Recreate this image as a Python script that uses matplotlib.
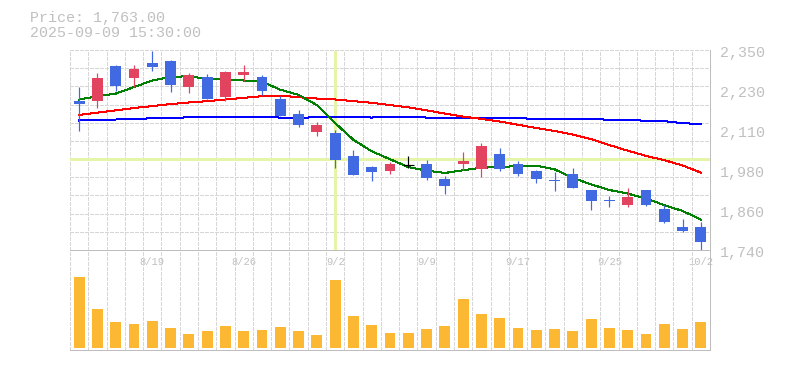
import matplotlib
matplotlib.use("Agg")
import matplotlib.pyplot as plt
from matplotlib.lines import Line2D
from matplotlib.transforms import offset_copy
import numpy as np

# ---------------- data ----------------
dates = ["8/13", "8/14", "8/15", "8/18", "8/19", "8/20", "8/21", "8/22",
         "8/25", "8/26", "8/27", "8/28", "8/29", "9/1", "9/2", "9/3",
         "9/4", "9/5", "9/8", "9/9", "9/10", "9/11", "9/12", "9/16",
         "9/17", "9/18", "9/19", "9/22", "9/24", "9/25", "9/26", "9/29",
         "9/30", "10/1", "10/2"]

opens = [2194, 2195, 2301, 2265, 2310, 2316, 2238, 2268, 2208, 2275,
         2268, 2201, 2155, 2101, 2097, 2027, 1993, 1982, 1999, 2002,
         1957, 2003, 1988, 2033, 2002, 1981, 1953, 1972, 1923, 1891,
         1878, 1923, 1865, 1809, 1810]
highs = [2238, 2281, 2304, 2304, 2347, 2320, 2280, 2277, 2286, 2304,
         2274, 2210, 2167, 2130, 2106, 2045, 1996, 2009, 2027, 2015,
         1966, 2040, 2066, 2051, 2011, 1984, 1977, 1990, 1923, 1906,
         1930, 1923, 1877, 1835, 1825]
lows = [2104, 2173, 2226, 2238, 2287, 2223, 2220, 2200, 2195, 2256,
        2213, 2149, 2116, 2089, 1991, 1969, 1949, 1973, 1991, 1952,
        1912, 1985, 1964, 1982, 1967, 1945, 1921, 1930, 1863, 1872,
        1872, 1875, 1823, 1795, 1741]
closes = [2186, 2265, 2241, 2292, 2299, 2244, 2274, 2201, 2283, 2283,
          2226, 2150, 2122, 2121, 2015, 1970, 1979, 2002, 1999, 1961,
          1936, 2012, 2057, 1988, 1973, 1958, 1951, 1930, 1888, 1889,
          1902, 1878, 1826, 1798, 1763]

ma_short = [2199, 2209, 2217, 2237, 2257, 2268, 2270, 2262, 2260, 2257,
            2253, 2229, 2213, 2182, 2127, 2076, 2041, 2017, 1993, 1982,
            1975, 1983, 1991, 1993, 1996, 1997, 1986, 1960, 1940, 1923,
            1912, 1897, 1877, 1859, 1833]
ma_mid = [2152, 2159, 2166, 2173, 2179, 2185, 2190, 2194, 2199, 2204,
          2209, 2211, 2206, 2202, 2199, 2194, 2189, 2182, 2175, 2166,
          2156, 2147, 2140, 2132, 2122, 2112, 2103, 2092, 2078, 2060,
          2043, 2027, 2014, 1998, 1976]
ma_long = [2135, 2138, 2138, 2139, 2142, 2142, 2145, 2145, 2145, 2145,
           2145, 2144, 2143, 2145, 2146, 2146, 2144, 2146, 2146, 2144,
           2144, 2144, 2144, 2142, 2142, 2140, 2140, 2140, 2140, 2137,
           2137, 2134, 2133, 2127, 2124]

volumes = [143, 79, 53, 49, 55, 41, 29, 35, 45, 35,
           37, 43, 35, 27, 137, 65, 47, 31, 31, 39,
           45, 99, 69, 61, 41, 37, 39, 35, 59, 41,
           37, 29, 49, 39, 53]

price_tick_values = [2350, 2228, 2106, 1984, 1862, 1740]
price_tick_labels = ["2,350", "2,230", "2,110", "1,980", "1,860", "1,740"]
date_tick_labels = ["8/19", "8/26", "9/2", "9/9", "9/17", "9/25", "10/2"]
info_lines = ["Price: 1,763.00", "2025-09-09 15:30:00"]
cross_date = "9/2"
cross_price = 2017.5

# ---------------- styling ----------------
W, H, DPI = 785, 370, 100
PT = 72.0 / DPI          # one pixel in points
UP = "#e2445f"
DOWN = "#4169e1"
FLAT = "#000000"
VOL = "#fdb833"
GRID = "#d6d6d6"
AXIS = "#bdbdbd"
TEXT = "#c0c0c0"
CROSS = "#e5f5a8"
FONT = "Liberation Mono"

L, R = 70, 710
P_TOP, P_BOT = 50, 250
V_TOP, V_BOT = 250, 350


def fx(px):
    return px / W


def fy(py):
    return 1 - py / H


fig = plt.figure(figsize=(W / DPI, H / DPI), dpi=DPI, facecolor="white")
ax = fig.add_axes([fx(L), fy(P_BOT), fx(R) - fx(L), fy(P_TOP) - fy(P_BOT)])
axv = fig.add_axes([fx(L), fy(V_BOT), fx(R) - fx(L), fy(V_TOP) - fy(V_BOT)])

n = len(dates)
x = np.arange(n)

for a in (ax, axv):
    a.patch.set_visible(False)
    a.set_xlim(-0.5, n - 0.5)
    a.set_xticks([])
    a.set_yticks([])
    for s in ("top", "left", "right"):
        a.spines[s].set_visible(False)
    a.spines["bottom"].set_color(AXIS)
    a.spines["bottom"].set_linewidth(1 * PT)
    a.spines["bottom"].set_zorder(6)
    # vertical dashed grid at candle boundaries
    for i in range(n):
        a.axvline(i - 0.5, color=GRID, lw=1 * PT, ls=(0, (3, 2)),
                  zorder=0.5, antialiased=False)

ax.set_ylim(min(price_tick_values), max(price_tick_values))
axv.set_ylim(-4, 196)

# horizontal dashed grid (square cells)
for k in range(1, 12):
    ax.plot([0, 1], [k / 11, k / 11], transform=ax.transAxes, color=GRID,
            lw=1 * PT, ls=(0, (3, 2)), zorder=0.5, antialiased=False)

# right border through both panels
fig.add_artist(Line2D([fx(R), fx(R)], [fy(V_BOT), fy(P_TOP)],
                      transform=fig.transFigure, color=AXIS, lw=1 * PT,
                      zorder=6))

# crosshair
ci = dates.index(cross_date)
ax.axhline(cross_price, color=CROSS, lw=3 * PT, zorder=1)
ax.axvline(ci, ymin=0.01, ymax=0.99, color=CROSS, lw=3 * PT, zorder=1)

# moving averages
ax.plot(x, ma_long, color="#0000ff", lw=1.0 * PT, zorder=2, antialiased=False)
ax.plot(x, ma_mid, color="#ff0000", lw=1.0 * PT, zorder=2, antialiased=False)
ax.plot(x, ma_short, color="#008000", lw=1.0 * PT, zorder=2, antialiased=False)

# candles
for i in range(n):
    o, h, l, c = opens[i], highs[i], lows[i], closes[i]
    col = UP if c > o else (DOWN if c < o else FLAT)
    ax.vlines(i, l, h, color=col, lw=1.2 * PT, zorder=3)
    if c != o:
        ax.bar(i, abs(c - o), bottom=min(o, c), width=0.6, color=col,
               lw=0, zorder=4)
    else:
        ax.hlines(o, i - 0.3, i + 0.3, color=col, lw=1.2 * PT, zorder=4)

# volume bars
axv.bar(x, volumes, width=0.6, color=VOL, lw=0, zorder=3)

# price labels on the right
tr = offset_copy(ax.get_yaxis_transform(), fig=fig, x=0, y=-7.5, units="dots")
for v, lab in zip(price_tick_values, price_tick_labels):
    ax.text(1 + 10 / (R - L), v, lab, transform=tr, ha="left", va="baseline",
            fontsize=10.8, family=FONT, color=TEXT, clip_on=False)

# date labels between the panels
trx = offset_copy(ax.get_xaxis_transform(), fig=fig, x=0, y=-15, units="dots")
for lab in date_tick_labels:
    ax.text(dates.index(lab), 0, lab, transform=trx, ha="center",
            va="baseline", fontsize=7.6, family=FONT, color=TEXT,
            clip_on=False, zorder=1)

# info text top-left
fig.text(fx(30), fy(22), info_lines[0], ha="left", va="baseline",
         fontsize=10.8, family=FONT, color=TEXT)
fig.text(fx(30), fy(37), info_lines[1], ha="left", va="baseline",
         fontsize=10.8, family=FONT, color=TEXT)

fig.savefig("out.png", dpi=DPI, facecolor="white")
